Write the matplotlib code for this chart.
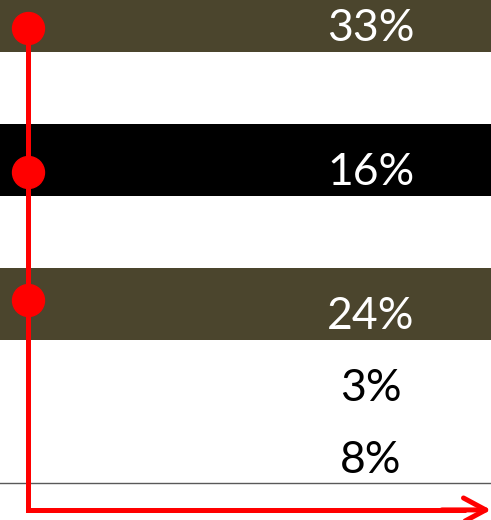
import matplotlib
matplotlib.use('Agg')
import matplotlib.pyplot as plt

# rows from top to bottom, one row per band
shares = [33, None, 16, None, 24, 3, 8]
bar_colors = ['#4b452d', 'white', 'black', 'white', '#4b452d', 'white', 'white']
text_colors = ['white', 'white', 'white', 'white', 'white', 'black', 'black']

# red markers on the timeline (row units)
dot_rows = [0.17, 2.17, 3.94]
arrow_row = 6.86
timeline_x = 0.058

fig = plt.figure(figsize=(4.91, 5.2), dpi=100)
ax = fig.add_axes([0, 0, 1, 1])

rows = list(range(len(shares)))
ax.barh(rows, 1.0, height=1.0, left=0, color=bar_colors, zorder=1)

for r, v, c in zip(rows, shares, text_colors):
    if v is None:
        continue
    ax.text(0.755, r + 0.18, f'{v}%', color=c, fontsize=32, family='Lato',
            ha='center', va='center', zorder=3)

# thin baseline
ax.axhline(6.49, color='#595959', lw=1, zorder=2)

# red timeline with arrow
ax.plot([timeline_x, timeline_x, 0.95], [dot_rows[0], arrow_row, arrow_row],
        color='red', lw=3.6, solid_joinstyle='miter', solid_capstyle='butt', zorder=4)
ax.annotate('', xy=(1.0, arrow_row), xytext=(0.9, arrow_row),
            arrowprops=dict(arrowstyle='->,head_length=0.8,head_width=0.43',
                            color='red', lw=3.6, mutation_scale=20,
                            shrinkA=0, shrinkB=0),
            zorder=4)
ax.plot([timeline_x] * len(dot_rows), dot_rows, 'o', color='red', ms=23, zorder=5)

ax.set_xlim(0, 1)
ax.set_ylim(7.0, -16 / 72)
ax.axis('off')

fig.savefig('out.png', dpi=100)
